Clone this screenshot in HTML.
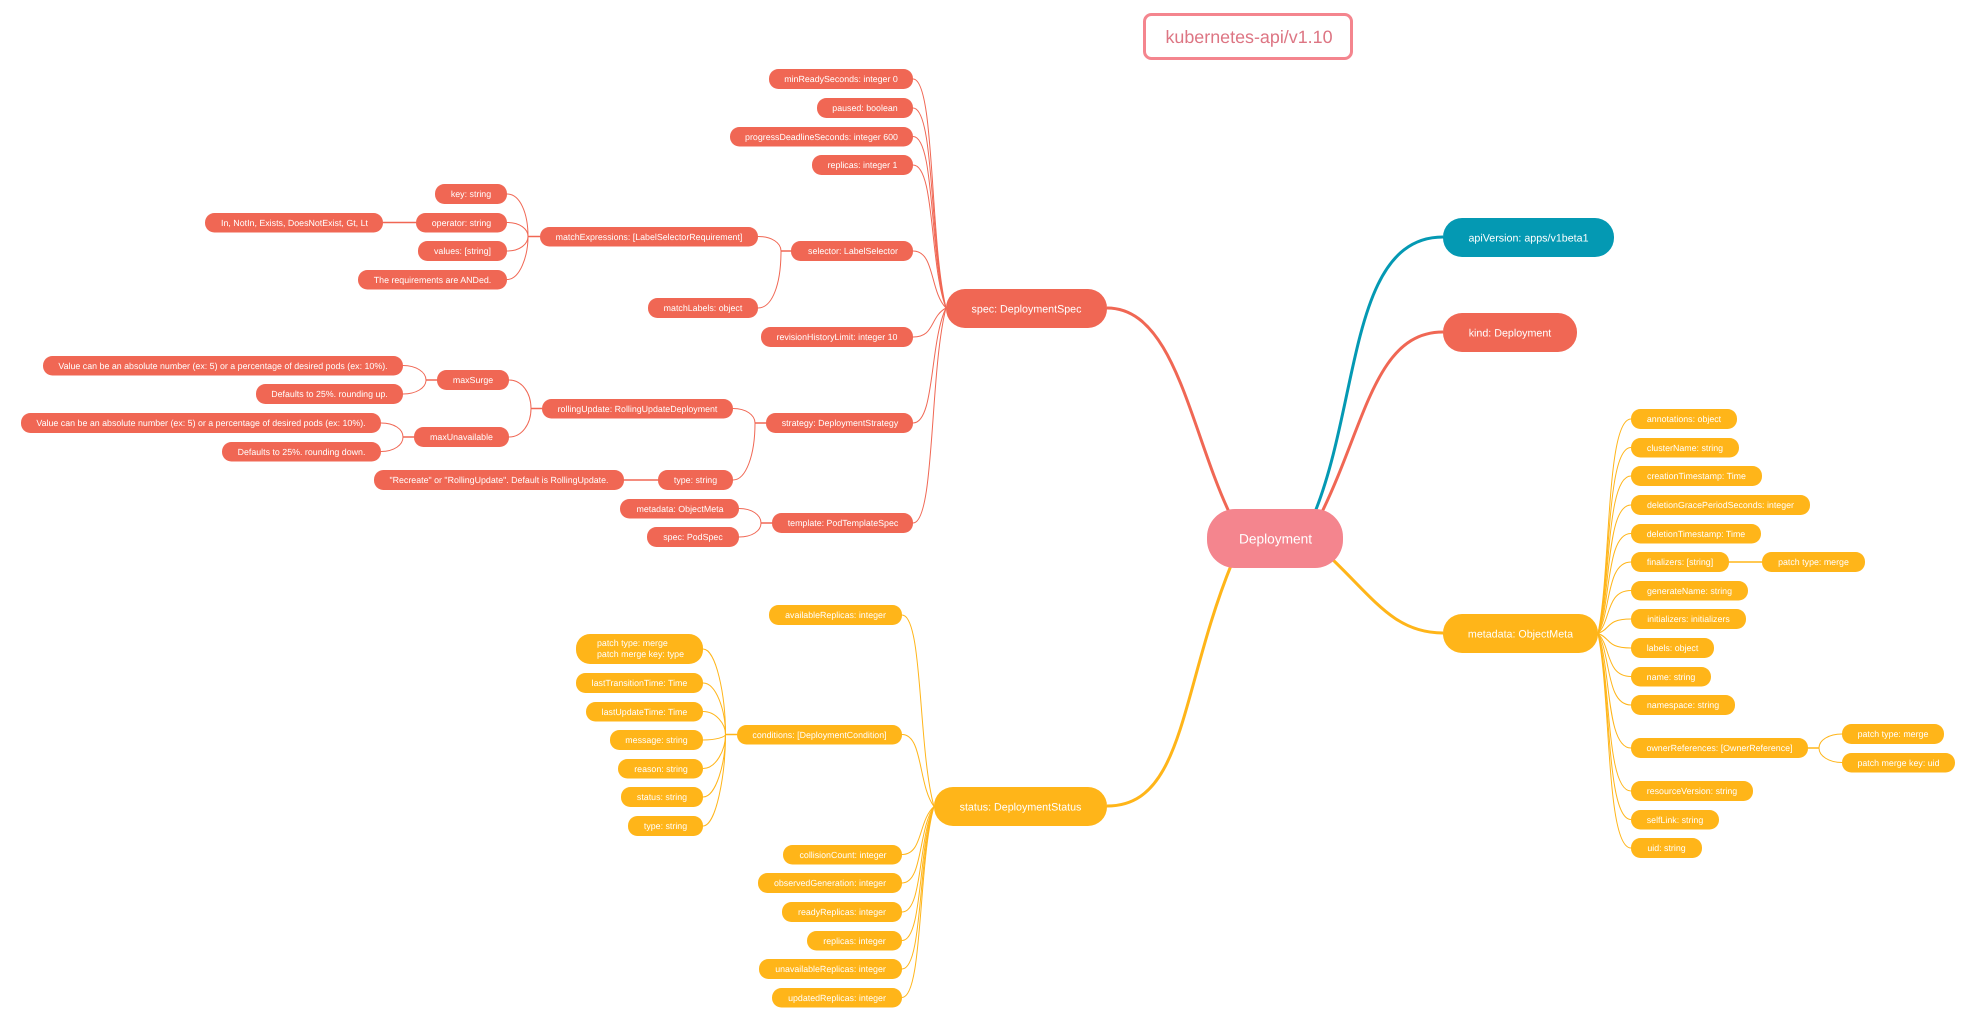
<!DOCTYPE html>
<html>
<head>
<meta charset="utf-8">
<style>
html,body{margin:0;padding:0;background:#fff;}
svg{display:block;}
text{font-family:"Liberation Sans",Arial,sans-serif;fill:#fff;text-anchor:middle;font-size:8.85px;text-rendering:geometricPrecision;}
.r rect{fill:#f06754;}
.a rect{fill:#ffb519;}
.lr path{stroke:#f06754;fill:none;stroke-width:1;}
.la path{stroke:#ffb519;fill:none;stroke-width:1;}
path.s{stroke-width:1.5;}
.big text{font-size:10.7px;}
</style>
</head>
<body>
<svg width="1974" height="1017" viewBox="0 0 1974 1017" xmlns="http://www.w3.org/2000/svg">
<rect width="1974" height="1017" fill="#fff"/>

<!-- main branches -->
<g fill="none" stroke-width="3">
<path stroke="#f06754" d="M1107,308 C1175,308 1190,430 1230,514"/>
<path stroke="#0499b3" d="M1443,237 C1350,237 1360,400 1315,512"/>
<path stroke="#f06754" d="M1443,332 C1375,332 1365,425 1321,514"/>
<path stroke="#ffb519" d="M1443,633 C1395,633 1375,600 1330,557"/>
<path stroke="#ffb519" d="M1107,806 C1185,806 1180,690 1232,563"/>
</g>

<!-- red connectors -->
<g class="lr">
<path d="M913,79 C935,79 929.5,239 946,308"/>
<path d="M913,108 C935,108 929.5,248 946,308"/>
<path d="M913,136.5 C935,136.5 929.5,256 946,308"/>
<path d="M913,165 C935,165 929.5,265 946,308"/>
<path d="M913,251 C935,251 929.5,291 946,308"/>
<path d="M913,337 C935,337 929.5,317 946,308"/>
<path d="M913,423 C935,423 929.5,342 946,308"/>
<path d="M913,523 C935,523 929.5,372 946,308"/>
<path d="M507,194 C520,194 528,213 528,236.5"/>
<path d="M507,222.5 C520,222.5 528,229 528,236.5"/>
<path d="M507,251 C520,251 528,244 528,236.5"/>
<path d="M507,279.5 C520,279.5 528,256 528,236.5"/>
<path class="s" d="M528,236.5 H540"/>
<path class="s" d="M383,222.5 H416"/>
<path d="M758,236.5 C772,236.5 781,243 781,251"/>
<path d="M758,308 C772,308 781,285 781,251"/>
<path class="s" d="M781,251 H791"/>
<path d="M403,365.5 C416,365.5 426,372 426,380"/>
<path d="M403,394 C416,394 426,388 426,380"/>
<path class="s" d="M426,380 H437"/>
<path d="M381,423 C394,423 403,429 403,437"/>
<path d="M381,451.5 C394,451.5 403,445 403,437"/>
<path class="s" d="M403,437 H414"/>
<path d="M509,380 C522,380 531,393 531,408.5"/>
<path d="M509,437 C522,437 531,424 531,408.5"/>
<path class="s" d="M531,408.5 H542"/>
<path d="M733,408.5 C746,408.5 755,415 755,423"/>
<path d="M733,480 C746,480 755,455 755,423"/>
<path class="s" d="M755,423 H766"/>
<path class="s" d="M624,480 H658"/>
<path d="M739,508.5 C752,508.5 761,515 761,523"/>
<path d="M739,537 C752,537 761,531 761,523"/>
<path class="s" d="M761,523 H772"/>
</g>

<!-- amber connectors -->
<g class="la">
<path d="M902,615 C923,615 918,749 934,806.5"/>
<path d="M902,734.5 C923,734.5 918,785 934,806.5"/>
<path d="M902,854.5 C923,854.5 918,821 934,806.5"/>
<path d="M902,883 C923,883 918,829.5 934,806.5"/>
<path d="M902,912 C923,912 918,838.6 934,806.5"/>
<path d="M902,940.5 C923,940.5 918,846.7 934,806.5"/>
<path d="M902,969 C923,969 918,855.3 934,806.5"/>
<path d="M902,997.5 C923,997.5 918,863.8 934,806.5"/>
<path d="M703,649 C716,649 725.5,695 725.5,734.5"/>
<path d="M703,683 C716,683 725.5,710 725.5,734.5"/>
<path d="M703,711.5 C716,711.5 725.5,724 725.5,734.5"/>
<path d="M703,740 C716,740 725.5,737 725.5,734.5"/>
<path d="M703,768.5 C716,768.5 725.5,750 725.5,734.5"/>
<path d="M703,797 C716,797 725.5,763 725.5,734.5"/>
<path d="M703,826 C716,826 725.5,775 725.5,734.5"/>
<path class="s" d="M725.5,734.5 H737"/>
<path d="M1631,419 C1606,419 1611,569 1598,633.5"/>
<path d="M1631,447.5 C1606,447.5 1611,578 1598,633.5"/>
<path d="M1631,476 C1606,476 1611,586 1598,633.5"/>
<path d="M1631,505 C1606,505 1611,595 1598,633.5"/>
<path d="M1631,533.5 C1606,533.5 1611,603.5 1598,633.5"/>
<path d="M1631,562 C1606,562 1611,612 1598,633.5"/>
<path d="M1631,590.5 C1606,590.5 1611,620.6 1598,633.5"/>
<path d="M1631,619 C1606,619 1611,629 1598,633.5"/>
<path d="M1631,648 C1606,648 1611,638 1598,633.5"/>
<path d="M1631,676.5 C1606,676.5 1611,646.4 1598,633.5"/>
<path d="M1631,705 C1606,705 1611,655 1598,633.5"/>
<path d="M1631,748 C1606,748 1611,668 1598,633.5"/>
<path d="M1631,791 C1606,791 1611,681 1598,633.5"/>
<path d="M1631,819.5 C1606,819.5 1611,689.7 1598,633.5"/>
<path d="M1631,848 C1606,848 1611,698 1598,633.5"/>
<path class="s" d="M1729,562 H1762"/>
<path class="s" d="M1808,748 H1819"/>
<path d="M1842,734 C1829,734 1819,740 1819,748"/>
<path d="M1842,762.5 C1829,762.5 1819,756 1819,748"/>
</g>

<!-- title -->
<rect x="1144.5" y="14.5" width="207" height="44" rx="7" fill="#fff" stroke="#f4858e" stroke-width="3"/>
<text x="1249" y="43" style="font-size:17.9px;fill:#dd7583;">kubernetes-api/v1.10</text>

<!-- root -->
<rect x="1207" y="509" width="136" height="59" rx="28" ry="28" fill="#f4858e"/>
<text x="1275.5" y="543.3" style="font-size:13.7px;">Deployment</text>

<!-- level 1 -->
<g class="big">
<rect x="1443" y="218" width="171" height="39" rx="19" fill="#0499b3"/><text x="1528.5" y="241.3">apiVersion: apps/v1beta1</text>
<rect x="1443" y="313" width="134" height="39" rx="19" fill="#f06754"/><text x="1510" y="336.3">kind: Deployment</text>
<rect x="946" y="289" width="161" height="39" rx="19" fill="#f06754"/><text x="1026.5" y="312.3">spec: DeploymentSpec</text>
<rect x="934" y="787" width="173" height="39" rx="19" fill="#ffb519"/><text x="1020.5" y="810.3">status: DeploymentStatus</text>
<rect x="1443" y="614" width="155" height="39" rx="19" fill="#ffb519"/><text x="1520.5" y="637.3">metadata: ObjectMeta</text>
</g>

<!-- red leaves -->
<g class="r">
<rect x="769" y="69" width="144" height="20" rx="9.5"/><text x="841" y="82.1">minReadySeconds: integer 0</text>
<rect x="817" y="98" width="96" height="20" rx="9.5"/><text x="865" y="111.1">paused: boolean</text>
<rect x="730" y="127" width="183" height="19.5" rx="9.5"/><text x="821.5" y="139.9">progressDeadlineSeconds: integer 600</text>
<rect x="812" y="155" width="101" height="20" rx="9.5"/><text x="862.5" y="168.1">replicas: integer 1</text>
<rect x="791" y="241" width="122" height="20" rx="9.5"/><text x="853" y="254.1">selector: LabelSelector</text>
<rect x="761" y="327" width="152" height="20" rx="9.5"/><text x="837" y="340.1">revisionHistoryLimit: integer 10</text>
<rect x="766" y="413" width="147" height="20" rx="9.5"/><text x="840" y="426.1">strategy: DeploymentStrategy</text>
<rect x="772" y="513" width="141" height="20" rx="9.5"/><text x="843" y="526.1">template: PodTemplateSpec</text>
<rect x="540" y="227" width="218" height="19.5" rx="9.5"/><text x="649" y="239.9">matchExpressions: [LabelSelectorRequirement]</text>
<rect x="648" y="298" width="110" height="20" rx="9.5"/><text x="703" y="311.1">matchLabels: object</text>
<rect x="435" y="184" width="72" height="20" rx="9.5"/><text x="471" y="197.1">key: string</text>
<rect x="416" y="213" width="91" height="19.5" rx="9.5"/><text x="461.5" y="225.9">operator: string</text>
<rect x="418" y="241" width="89" height="20" rx="9.5"/><text x="462.5" y="254.1">values: [string]</text>
<rect x="358" y="270" width="149" height="19.5" rx="9.5"/><text x="432.5" y="282.9">The requirements are ANDed.</text>
<rect x="205" y="213" width="178" height="19.5" rx="9.5"/><text x="294.5" y="225.9">In, NotIn, Exists, DoesNotExist, Gt, Lt</text>
<rect x="542" y="399" width="191" height="19.5" rx="9.5"/><text x="637.5" y="411.9">rollingUpdate: RollingUpdateDeployment</text>
<rect x="437" y="370" width="72" height="20" rx="9.5"/><text x="473" y="383.1">maxSurge</text>
<rect x="414" y="427" width="95" height="20" rx="9.5"/><text x="461.5" y="440.1">maxUnavailable</text>
<rect x="43" y="356" width="360" height="19.5" rx="9.5"/><text x="223" y="368.9">Value can be an absolute number (ex: 5) or a percentage of desired pods (ex: 10%).</text>
<rect x="256" y="384" width="147" height="20" rx="9.5"/><text x="329.5" y="397.1">Defaults to 25%. rounding up.</text>
<rect x="21" y="413" width="360" height="20" rx="9.5"/><text x="201" y="426.1">Value can be an absolute number (ex: 5) or a percentage of desired pods (ex: 10%).</text>
<rect x="222" y="442" width="159" height="19.5" rx="9.5"/><text x="301.5" y="454.9">Defaults to 25%. rounding down.</text>
<rect x="374" y="470" width="250" height="20" rx="9.5"/><text x="499" y="483.1">"Recreate" or "RollingUpdate". Default is RollingUpdate.</text>
<rect x="658" y="470" width="75" height="20" rx="9.5"/><text x="695.5" y="483.1">type: string</text>
<rect x="620" y="499" width="119" height="19.5" rx="9.5"/><text x="680" y="511.9">metadata: ObjectMeta</text>
<rect x="647" y="527" width="92" height="20" rx="9.5"/><text x="693" y="540.1">spec: PodSpec</text>
</g>

<!-- amber leaves -->
<g class="a">
<rect x="769" y="605" width="133" height="20" rx="9.5"/><text x="835.5" y="618.1">availableReplicas: integer</text>
<rect x="737" y="725" width="165" height="19.5" rx="9.5"/><text x="819.5" y="737.9">conditions: [DeploymentCondition]</text>
<rect x="783" y="845" width="119" height="19.5" rx="9.5"/><text x="843" y="857.9">collisionCount: integer</text>
<rect x="758" y="873" width="144" height="20" rx="9.5"/><text x="830" y="886.1">observedGeneration: integer</text>
<rect x="782" y="902" width="120" height="20" rx="9.5"/><text x="842" y="915.1">readyReplicas: integer</text>
<rect x="807" y="931" width="95" height="19.5" rx="9.5"/><text x="854.5" y="943.9">replicas: integer</text>
<rect x="759" y="959" width="143" height="20" rx="9.5"/><text x="830.5" y="972.1">unavailableReplicas: integer</text>
<rect x="772" y="988" width="130" height="19.5" rx="9.5"/><text x="837" y="1000.9">updatedReplicas: integer</text>
<rect x="576" y="634" width="127" height="30" rx="14"/>
<text x="597" y="646" style="text-anchor:start;">patch type: merge</text>
<text x="597" y="657" style="text-anchor:start;">patch merge key: type</text>
<rect x="576" y="673" width="127" height="20" rx="9.5"/><text x="639.5" y="686.1">lastTransitionTime: Time</text>
<rect x="586" y="702" width="117" height="19.5" rx="9.5"/><text x="644.5" y="714.9">lastUpdateTime: Time</text>
<rect x="610" y="730" width="93" height="20" rx="9.5"/><text x="656.5" y="743.1">message: string</text>
<rect x="618" y="759" width="85" height="19.5" rx="9.5"/><text x="661" y="771.9">reason: string</text>
<rect x="621" y="787" width="82" height="20" rx="9.5"/><text x="662" y="800.1">status: string</text>
<rect x="628" y="816" width="75" height="20" rx="9.5"/><text x="665.5" y="829.1">type: string</text>

<rect x="1631" y="409" width="106" height="20" rx="9.5"/><text x="1684" y="422.1">annotations: object</text>
<rect x="1631" y="438" width="108" height="19.5" rx="9.5"/><text x="1685" y="450.9">clusterName: string</text>
<rect x="1631" y="466" width="131" height="20" rx="9.5"/><text x="1696.5" y="479.1">creationTimestamp: Time</text>
<rect x="1631" y="495" width="179" height="20" rx="9.5"/><text x="1720.5" y="508.1">deletionGracePeriodSeconds: integer</text>
<rect x="1631" y="524" width="130" height="19.5" rx="9.5"/><text x="1696" y="536.9">deletionTimestamp: Time</text>
<rect x="1631" y="552" width="98" height="20" rx="9.5"/><text x="1680" y="565.1">finalizers: [string]</text>
<rect x="1762" y="552" width="103" height="20" rx="9.5"/><text x="1813.5" y="565.1">patch type: merge</text>
<rect x="1631" y="581" width="117" height="19.5" rx="9.5"/><text x="1689.5" y="593.9">generateName: string</text>
<rect x="1631" y="609" width="115" height="20" rx="9.5"/><text x="1688.5" y="622.1">initializers: initializers</text>
<rect x="1631" y="638" width="83" height="20" rx="9.5"/><text x="1672.5" y="651.1">labels: object</text>
<rect x="1631" y="667" width="80" height="19.5" rx="9.5"/><text x="1671" y="679.9">name: string</text>
<rect x="1631" y="695" width="104" height="20" rx="9.5"/><text x="1683" y="708.1">namespace: string</text>
<rect x="1631" y="738" width="177" height="20" rx="9.5"/><text x="1719.5" y="751.1">ownerReferences: [OwnerReference]</text>
<rect x="1842" y="724" width="102" height="20" rx="9.5"/><text x="1893" y="737.1">patch type: merge</text>
<rect x="1842" y="753" width="113" height="19.5" rx="9.5"/><text x="1898.5" y="765.9">patch merge key: uid</text>
<rect x="1631" y="781" width="122" height="20" rx="9.5"/><text x="1692" y="794.1">resourceVersion: string</text>
<rect x="1631" y="810" width="88" height="19.5" rx="9.5"/><text x="1675" y="822.9">selfLink: string</text>
<rect x="1631" y="838" width="71" height="20" rx="9.5"/><text x="1666.5" y="851.1">uid: string</text>
</g>
</svg>
</body>
</html>
